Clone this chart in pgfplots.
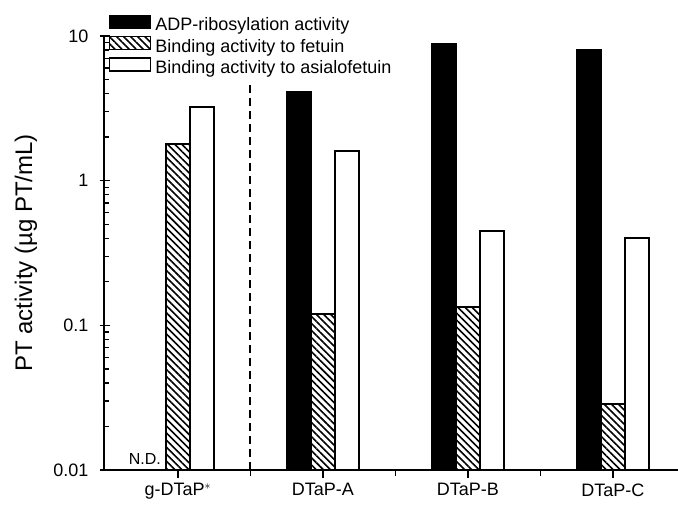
\documentclass[border=0pt]{standalone}
\usepackage{fontspec}
\setmainfont{Liberation Sans}
\usepackage{pgfplots}
\pgfplotsset{compat=1.18}
\usetikzlibrary{patterns.meta}

\begin{document}
\begin{tikzpicture}[font=\fontsize{18bp}{21bp}\selectfont]
  \begin{axis}[
    scale only axis,
    width=574bp, height=434bp,
    ymode=log, log origin=infty,
    xmin=-0.51, xmax=3.45,
    ymin=0.01, ymax=10,
    axis x line=bottom, axis y line=left,
    axis line style={-, line width=1.6bp},
    xtick={0,1,2,3},
    xticklabels={g-DTaP$^{\ast}$, DTaP-A, DTaP-B, DTaP-C},
    ytick={0.01,0.1,1,10},
    yticklabels={0.01,0.1,1,10},
    major tick length=0pt,
    yticklabel style={xshift=-12bp, font=\fontsize{18bp}{20bp}\selectfont},
    xticklabel style={yshift=-10bp, font=\fontsize{18bp}{20bp}\selectfont},
    /pgf/number format/assume math mode=true,
    ylabel={PT activity (µg PT/mL)},
    every axis y label/.style={at={(axis description cs:0,0.5)}, xshift=-78bp, rotate=90, anchor=center, font=\fontsize{24bp}{26bp}\selectfont},
    legend style={at={(axis description cs:0.008,1.05)}, anchor=north west,
      draw=none, fill=none, row sep=0bp, inner sep=0pt,
      font=\fontsize{18bp}{21bp}\selectfont,
      nodes={inner sep=1bp, text depth=4bp, text height=13bp}},
    legend cell align=left,
    legend image code/.code={\draw[#1, line width=1.5bp] (0bp,-2bp) rectangle (41bp,11bp); \path (44bp,4bp);},
    clip=false,
  ]
    % ADP-ribosylation activity (g-DTaP not detected)
    \addplot[ybar, bar width=24bp, bar shift=-24bp, draw=black, line width=1.5bp, fill=black]
      coordinates {(1,4.1) (2,8.8) (3,8.0)};
    \addlegendentry{ADP-ribosylation activity}
    % Binding activity to fetuin
    \addplot[ybar, bar width=24bp, bar shift=0bp, draw=black, line width=1.5bp,
      pattern={Lines[angle=-45, distance=5bp, line width=1.6bp]}]
      coordinates {(0,1.79) (1,0.12) (2,0.134) (3,0.0286)};
    \addlegendentry{Binding activity to fetuin}
    % Binding activity to asialofetuin
    \addplot[ybar, bar width=24bp, bar shift=24bp, draw=black, line width=1.5bp, fill=white]
      coordinates {(0,3.23) (1,1.6) (2,0.449) (3,0.40)};
    \addlegendentry{Binding activity to asialofetuin}

    % separator
    \addplot[sharp plot, forget plot, black, line width=2bp, dash pattern=on 8bp off 5bp]
      coordinates {(0.5,0.01) (0.5,4.8)};

    % tick marks drawn as short plot segments
    \pgfplotsinvokeforeach{0,1,2,3}{
      \addplot[sharp plot, forget plot, black, line width=1.5bp]
        coordinates {(#1,0.01) (#1,0.0088)};}
    \pgfplotsinvokeforeach{0.5,1.5,2.5}{
      \addplot[sharp plot, forget plot, black, line width=1.5bp]
        coordinates {(#1,0.01) (#1,0.0091)};}
    \pgfplotsinvokeforeach{0.01,0.1,1,10}{
      \addplot[sharp plot, forget plot, black, line width=1.5bp]
        coordinates {(-0.538,#1) (-0.472,#1)};}
    \pgfplotsinvokeforeach{0.02,0.03,0.04,0.05,0.06,0.07,0.08,0.09,0.2,0.3,0.4,0.5,0.6,0.7,0.8,0.9,2,3,4,5,6,7,8,9}{
      \addplot[sharp plot, forget plot, black, line width=1.4bp]
        coordinates {(-0.51,#1) (-0.4755,#1)};}

    \node[font=\fontsize{16bp}{18bp}\selectfont] at (axis cs:-0.228,0.0119) {N.D.};
  \end{axis}
  \pgfresetboundingbox
  \path[use as bounding box] (0bp,0bp) ++(-104bp,-37bp) rectangle ++(678bp,507bp);
\end{tikzpicture}
\end{document}
